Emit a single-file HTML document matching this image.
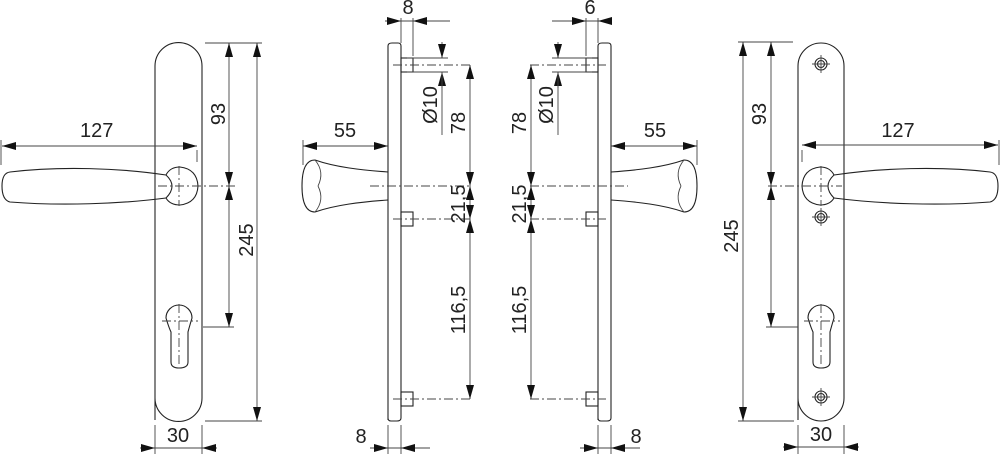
<!DOCTYPE html>
<html><head><meta charset="utf-8"><style>
html,body{margin:0;padding:0;background:#fff;width:1000px;height:454px;overflow:hidden}
svg{display:block}
text{font-family:"Liberation Sans",sans-serif;font-size:20px;fill:#222}
.l{stroke:#222;stroke-width:1.1;fill:none}
.t{stroke:#444;stroke-width:0.9;fill:none}
.d{stroke:#444;stroke-width:0.9;fill:none;stroke-dasharray:9 3 2 3}
</style></head><body>
<svg width="1000" height="454" viewBox="0 0 1000 454">
<defs>
<marker id="a" viewBox="0 0 14 8" refX="14" refY="4" markerWidth="14" markerHeight="8" markerUnits="userSpaceOnUse" orient="auto-start-reverse"><path d="M0,0 L14,4 L0,8z" fill="#111"/></marker>
</defs>

<!-- VIEW 1 -->
<path class="l" d="M155,420 V66 A23.5,23.5 0 0 1 202,66 V398 A23.5,23.5 0 0 1 155,398"/>
<path class="l" d="M166,175 C120,168 60,166 10,172 Q2,173 2,186 Q2,200 10,202 C60,206 120,204 166,198"/>
<path class="l" d="M166,175 Q170,167 180,167 Q197,169 198,186 Q197,203 180,205 Q170,205 166,198 Q178,186 166,175z"/>
<path class="d" d="M158,186 H235 M179,166 V206"/>
<path class="t" d="M197,150 V162 M1,140 V165"/>
<line class="t" x1="2" y1="146" x2="197" y2="146" marker-start="url(#a)" marker-end="url(#a)"/>
<text x="80" y="137">127</text>
<path class="l" d="M166,318 A13,13 0 1 1 192,318 Q189,328 188,332 V362 Q188,368 179,368 Q171,368 171,362 V332 Q169,328 166,318z"/>
<path class="d" d="M162,321 H198 M179,304 V366"/>
<path class="t" d="M203,327 H234 M205,43 H262 M205,421 H262"/>
<line class="t" x1="229" y1="43" x2="229" y2="186" marker-start="url(#a)" marker-end="url(#a)"/>
<line class="t" x1="229" y1="186" x2="229" y2="327" marker-start="url(#a)" marker-end="url(#a)"/>
<line class="t" x1="257" y1="43" x2="257" y2="421" marker-start="url(#a)" marker-end="url(#a)"/>
<text transform="translate(225,114) rotate(-90)" text-anchor="middle">93</text>
<text transform="translate(253,240) rotate(-90)" text-anchor="middle">245</text>
<path class="t" d="M155,425 V454 M202,425 V454"/>
<line class="t" x1="140" y1="448" x2="155" y2="448" marker-end="url(#a)"/>
<line class="t" x1="217" y1="448" x2="202" y2="448" marker-end="url(#a)"/>
<line class="t" x1="155" y1="448" x2="202" y2="448"/>
<text x="178" y="442" text-anchor="middle">30</text>

<!-- VIEW 2 -->
<path class="l" d="M388,420 V46 Q388,43 392,43 H398 Q401,43 401,46 V418 Q401,421 397,421 H391 Q388,421 388,418"/>
<rect class="l" x="401" y="58" width="12" height="14"/>
<rect class="l" x="401" y="212" width="12" height="14"/>
<rect class="l" x="401" y="392" width="12" height="14"/>
<path class="d" d="M393,65 H470 M393,219 H470 M393,399 H470 M370,186 H470"/>
<path class="t" d="M407,58 H448 M407,72 H448"/>
<path class="l" d="M388,172 C360,170 335,167 315,160 Q302,160 302,186 Q302,212 315,212 C335,205 360,202 388,200"/>
<path class="t" d="M315,160 Q325,172 318,186 M318,186 Q325,200 315,212"/>
<path class="t" d="M303,140 V165"/>
<line class="t" x1="303" y1="146" x2="388" y2="146" marker-start="url(#a)" marker-end="url(#a)"/>
<text x="345" y="137" text-anchor="middle">55</text>
<path class="t" d="M401,18 V43 M413,18 V56 M385,21 H450"/>
<line class="t" x1="386" y1="21" x2="401" y2="21" marker-end="url(#a)"/>
<line class="t" x1="428" y1="21" x2="413" y2="21" marker-end="url(#a)"/>
<text x="408" y="14" text-anchor="middle">8</text>
<line class="t" x1="442" y1="42" x2="442" y2="58" marker-end="url(#a)"/>
<line class="t" x1="442" y1="88" x2="442" y2="72" marker-end="url(#a)"/>
<line class="t" x1="442" y1="72" x2="442" y2="135"/>
<text transform="translate(437,105) rotate(-90)" text-anchor="middle">Ø10</text>
<line class="t" x1="470" y1="65" x2="470" y2="186" marker-start="url(#a)" marker-end="url(#a)"/>
<line class="t" x1="470" y1="186" x2="470" y2="219" marker-start="url(#a)" marker-end="url(#a)"/>
<line class="t" x1="470" y1="219" x2="470" y2="399" marker-start="url(#a)" marker-end="url(#a)"/>
<text transform="translate(465,123) rotate(-90)" text-anchor="middle">78</text>
<text transform="translate(465,204) rotate(-90)" text-anchor="middle">21,5</text>
<text transform="translate(465,310) rotate(-90)" text-anchor="middle">116,5</text>
<path class="t" d="M388,425 V454 M401,425 V454 M370,448 H430"/>
<line class="t" x1="372" y1="448" x2="388" y2="448" marker-end="url(#a)"/>
<line class="t" x1="417" y1="448" x2="401" y2="448" marker-end="url(#a)"/>
<text x="361" y="443" text-anchor="middle">8</text>

<!-- VIEW 3 -->
<path class="l" d="M598,420 V46 Q598,43 602,43 H608 Q611,43 611,46 V418 Q611,421 607,421 H601 Q598,421 598,418"/>
<rect class="l" x="586" y="58" width="12" height="14"/>
<rect class="l" x="586" y="212" width="12" height="14"/>
<rect class="l" x="586" y="392" width="12" height="14"/>
<path class="d" d="M530,65 H606 M530,219 H606 M530,399 H606 M530,186 H628"/>
<path class="t" d="M552,58 H592 M552,72 H592"/>
<path class="l" d="M611,172 C639,170 664,167 684,160 Q697,160 697,186 Q697,212 684,212 C664,205 639,202 611,200"/>
<path class="t" d="M684,160 Q674,172 681,186 M681,186 Q674,200 684,212"/>
<path class="t" d="M697,140 V165"/>
<line class="t" x1="611" y1="146" x2="697" y2="146" marker-start="url(#a)" marker-end="url(#a)"/>
<text x="655" y="137" text-anchor="middle">55</text>
<path class="t" d="M598,18 V43 M586,18 V56 M552,21 H612"/>
<line class="t" x1="571" y1="21" x2="586" y2="21" marker-end="url(#a)"/>
<line class="t" x1="612" y1="21" x2="598" y2="21" marker-end="url(#a)"/>
<text x="590" y="14" text-anchor="middle">6</text>
<line class="t" x1="558" y1="42" x2="558" y2="58" marker-end="url(#a)"/>
<line class="t" x1="558" y1="88" x2="558" y2="72" marker-end="url(#a)"/>
<line class="t" x1="558" y1="72" x2="558" y2="135"/>
<text transform="translate(553,105) rotate(-90)" text-anchor="middle">Ø10</text>
<line class="t" x1="531" y1="65" x2="531" y2="186" marker-start="url(#a)" marker-end="url(#a)"/>
<line class="t" x1="531" y1="186" x2="531" y2="219" marker-start="url(#a)" marker-end="url(#a)"/>
<line class="t" x1="531" y1="219" x2="531" y2="399" marker-start="url(#a)" marker-end="url(#a)"/>
<text transform="translate(526,123) rotate(-90)" text-anchor="middle">78</text>
<text transform="translate(526,204) rotate(-90)" text-anchor="middle">21,5</text>
<text transform="translate(526,310) rotate(-90)" text-anchor="middle">116,5</text>
<path class="t" d="M598,425 V454 M611,425 V454 M580,448 H640"/>
<line class="t" x1="582" y1="448" x2="598" y2="448" marker-end="url(#a)"/>
<line class="t" x1="627" y1="448" x2="611" y2="448" marker-end="url(#a)"/>
<text x="636" y="443" text-anchor="middle">8</text>

<!-- VIEW 4 -->
<path class="l" d="M798,420 V66 A23,23 0 0 1 844,66 V398 A23,23 0 0 1 798,398"/>
<g class="l"><circle cx="821" cy="64" r="6"/><circle cx="821" cy="64" r="3.5"/><circle cx="821" cy="217" r="6"/><circle cx="821" cy="217" r="3.5"/><circle cx="821" cy="397" r="6"/><circle cx="821" cy="397" r="3.5"/></g>
<path class="t" d="M812,64 H830 M821,55 V73 M812,217 H830 M821,208 V226 M812,397 H830 M821,388 V406"/>
<path class="l" d="M834,175 C880,168 940,166 990,172 Q998,173 998,186 Q998,200 990,202 C940,206 880,204 834,198"/>
<path class="l" d="M834,175 Q830,167 820,167 Q803,169 802,186 Q803,203 820,205 Q830,205 834,198 Q822,186 834,175z"/>
<path class="d" d="M768,186 H842 M821,166 V206"/>
<path class="t" d="M802,150 V162 M999,140 V165"/>
<line class="t" x1="802" y1="145" x2="998" y2="145" marker-start="url(#a)" marker-end="url(#a)"/>
<text x="898" y="137" text-anchor="middle">127</text>
<path class="l" d="M808,318 A13,13 0 1 1 834,318 Q831,328 830,332 V362 Q830,368 821,368 Q813,368 813,362 V332 Q811,328 808,318z"/>
<path class="d" d="M804,321 H840 M821,304 V366"/>
<path class="t" d="M766,327 H798 M738,42 H793 M738,421 H794"/>
<line class="t" x1="771" y1="42" x2="771" y2="186" marker-start="url(#a)" marker-end="url(#a)"/>
<line class="t" x1="771" y1="186" x2="771" y2="327" marker-start="url(#a)" marker-end="url(#a)"/>
<line class="t" x1="743" y1="42" x2="743" y2="421" marker-start="url(#a)" marker-end="url(#a)"/>
<text transform="translate(766,114) rotate(-90)" text-anchor="middle">93</text>
<text transform="translate(738,236) rotate(-90)" text-anchor="middle">245</text>
<path class="t" d="M798,425 V454 M844,425 V454"/>
<line class="t" x1="783" y1="447" x2="798" y2="447" marker-end="url(#a)"/>
<line class="t" x1="859" y1="447" x2="844" y2="447" marker-end="url(#a)"/>
<line class="t" x1="798" y1="447" x2="844" y2="447"/>
<text x="821" y="441" text-anchor="middle">30</text>
</svg>
</body></html>
